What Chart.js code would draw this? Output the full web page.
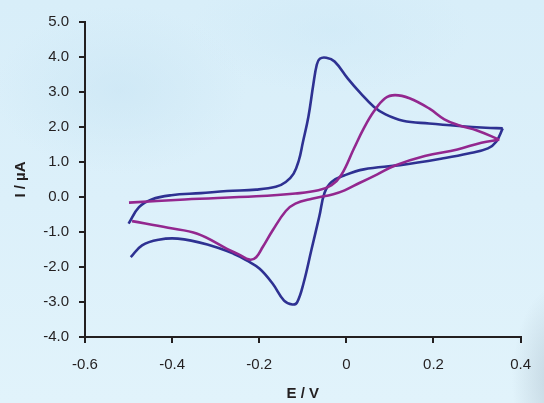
<!DOCTYPE html>
<html>
<head>
<meta charset="utf-8">
<title>Cyclic voltammogram</title>
<script src="https://cdn.jsdelivr.net/npm/chart.js@4.4.1/dist/chart.umd.min.js"></script>
<style>
  html, body { margin: 0; padding: 0; }
  body {
    width: 544px; height: 403px; overflow: hidden;
    background:
      radial-gradient(ellipse 180px 120px at 120px 90px, rgba(200,228,243,0.55), rgba(200,228,243,0) 70%),
      radial-gradient(ellipse 200px 90px at 330px 30px, rgba(205,232,246,0.5), rgba(205,232,246,0) 70%),
      radial-gradient(ellipse 60px 120px at 560px 380px, rgba(150,170,185,0.45), rgba(150,170,185,0) 80%),
      linear-gradient(180deg, #d8eef9 0%, #dcf0fa 50%, #e1f3fb 100%);
  }
  #wrap { position: absolute; left: 0; top: 0; width: 544px; height: 403px; }
</style>
</head>
<body>
<div id="wrap"><canvas id="chart" width="544" height="403"></canvas></div>
<script>
// =======================
// Dados
// =======================

// curva azul - varredura direta e inversa
const blueFwdE = [-0.500, -0.476, -0.447, -0.402, -0.334, -0.274, -0.207, -0.162, -0.139, -0.121, -0.109, -0.100, -0.087, -0.076, -0.068, -0.061, -0.046, -0.027, 0.003, 0.033, 0.063, 0.090, 0.130, 0.190, 0.258, 0.320, 0.359];
const blueFwdI = [-0.76, -0.29, -0.07, 0.05, 0.11, 0.17, 0.21, 0.29, 0.43, 0.67, 1.05, 1.55, 2.30, 3.20, 3.77, 3.95, 3.98, 3.87, 3.39, 2.96, 2.58, 2.36, 2.18, 2.10, 2.03, 1.98, 1.96];
const blueRevE = [0.359, 0.344, 0.325, 0.280, 0.220, 0.123, 0.040, -0.004, -0.034, -0.050, -0.062, -0.080, -0.098, -0.113, -0.124, -0.143, -0.169, -0.199, -0.229, -0.259, -0.319, -0.387, -0.431, -0.469, -0.495];
const blueRevI = [1.96, 1.58, 1.39, 1.24, 1.10, 0.91, 0.79, 0.62, 0.43, 0.12, -0.55, -1.50, -2.45, -3.01, -3.07, -2.96, -2.48, -2.05, -1.81, -1.62, -1.36, -1.19, -1.22, -1.38, -1.72];

// curva roxa
const purpleFwdE = [-0.499, -0.371, -0.207, -0.117, -0.064, -0.034, -0.012, 0.018, 0.040, 0.063, 0.089, 0.112, 0.145, 0.190, 0.225, 0.258, 0.300, 0.351];
const purpleFwdI = [-0.16, -0.07, 0.02, 0.10, 0.19, 0.34, 0.62, 1.40, 1.96, 2.44, 2.82, 2.91, 2.82, 2.53, 2.22, 2.05, 1.90, 1.64];
const purpleRevE = [0.351, 0.310, 0.255, 0.180, 0.112, 0.070, 0.030, -0.004, -0.030, -0.079, -0.117, -0.139, -0.169, -0.192, -0.207, -0.222, -0.247, -0.274, -0.342, -0.409, -0.492];
const purpleRevI = [1.64, 1.55, 1.36, 1.17, 0.90, 0.64, 0.40, 0.19, 0.08, -0.05, -0.19, -0.40, -0.95, -1.43, -1.72, -1.79, -1.64, -1.48, -1.05, -0.88, -0.69];

// eixos
const xTickValues = [-0.6, -0.4, -0.2, 0, 0.2, 0.4];
const xTickLabels = ["-0.6", "-0.4", "-0.2", "0", "0.2", "0.4"];
const yTickValues = [-4, -3, -2, -1, 0, 1, 2, 3, 4, 5];
const yTickLabels = ["-4.0", "-3.0", "-2.0", "-1.0", "0.0", "1.0", "2.0", "3.0", "4.0", "5.0"];

// =======================
// Utils
// =======================
function pts(es, is) {
    return es.map((e, k) => ({ x: e, y: is[k] }));
}

function serie(es, is, cor) {
    return {
        data: pts(es, is),
        showLine: true,
        borderColor: cor,
        borderWidth: 2.6,
        pointRadius: 0,
        tension: 0.4,
        fill: false
    };
}

const BLUE = "#2e3192";
const PURPLE = "#93278f";
const INK = "#231f20";
const FONT = "'Liberation Sans', Arial, Helvetica, sans-serif";

// =======================
// Gráfico
// =======================
new Chart(document.getElementById("chart"), {
    type: "scatter",
    data: {
        datasets: [
            serie(purpleFwdE, purpleFwdI, PURPLE),
            serie(purpleRevE, purpleRevI, PURPLE),
            serie(blueFwdE, blueFwdI, BLUE),
            serie(blueRevE, blueRevI, BLUE)
        ]
    },
    options: {
        responsive: false,
        animation: false,
        layout: { padding: { left: 0, right: 14, top: 22, bottom: 0 } },
        plugins: { legend: { display: false }, tooltip: { enabled: false } },
        scales: {
            x: {
                type: "linear",
                min: -0.6, max: 0.4,
                afterBuildTicks: s => { s.ticks = xTickValues.map(v => ({ value: v })); },
                afterFit: s => { s.height = 66; },
                ticks: {
                    color: INK, padding: 13,
                    font: { family: FONT, size: 15 },
                    callback: (v, i) => xTickLabels[i]
                },
                grid: { drawOnChartArea: false, drawTicks: true, tickLength: 6, color: INK, lineWidth: 2 },
                border: { display: true, color: INK, width: 2 },
                title: {
                    display: true, text: "E / V", color: INK,
                    font: { family: FONT, size: 15, weight: "bold" },
                    padding: { top: 0, bottom: 0 }
                }
            },
            y: {
                type: "linear",
                min: -4, max: 5,
                afterBuildTicks: s => { s.ticks = yTickValues.map(v => ({ value: v })); },
                afterFit: s => { s.width = 85; },
                ticks: {
                    color: INK, padding: 10,
                    font: { family: FONT, size: 15 },
                    callback: (v, i) => yTickLabels[i]
                },
                grid: { drawOnChartArea: false, drawTicks: true, tickLength: 6, color: INK, lineWidth: 2 },
                border: { display: true, color: INK, width: 2 },
                title: {
                    display: true, text: "I / µA", color: INK,
                    font: { family: FONT, size: 15, weight: "bold" },
                    padding: { top: 12, bottom: 0 }
                }
            }
        }
    }
});
</script>
</body>
</html>
